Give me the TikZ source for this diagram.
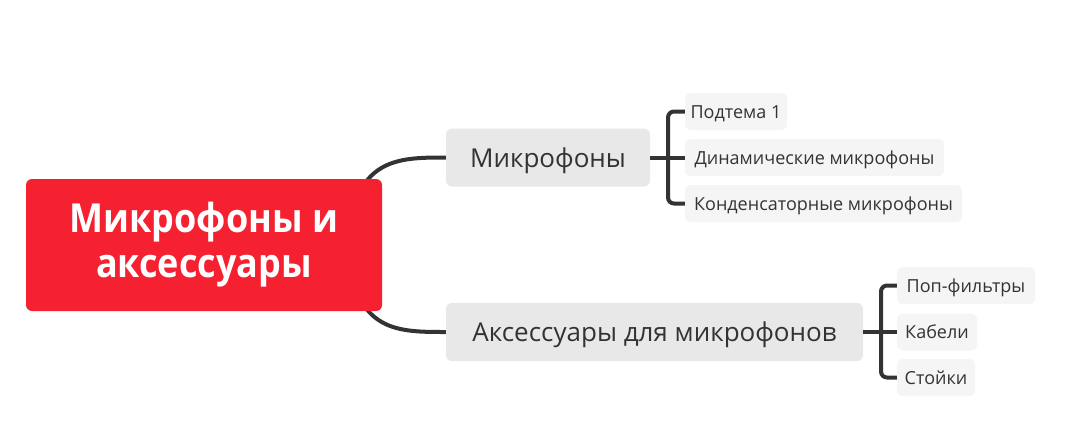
\documentclass[tikz,border=0pt]{standalone}
\usepackage{fontspec}
\setmainfont{Open Sans}
\newfontfamily\rootfont{Open Sans}[FakeStretch=0.9]
\usetikzlibrary{backgrounds,calc}
\definecolor{rootred}{HTML}{F52030}
\definecolor{mainfill}{HTML}{E8E8E8}
\definecolor{subfill}{HTML}{F5F5F5}
\definecolor{linecol}{HTML}{333333}
\definecolor{txt}{HTML}{333333}
\tikzset{
  rootbox/.style={fill=rootred, rounded corners=6pt, text=white, font=\rootfont\fontsize{40}{45}\selectfont\bfseries, align=center, minimum width=356pt, minimum height=132pt, inner sep=0pt},
  mainbox/.style={fill=mainfill, rounded corners=6pt, text=txt, font=\fontsize{26}{30}\selectfont, minimum height=58pt, inner sep=0pt, text height=19pt, text depth=0pt},
  subbox/.style={fill=subfill, rounded corners=6pt, text=txt, font=\fontsize{18}{20}\selectfont, minimum height=37pt, inner sep=0pt, text height=13pt, text depth=0pt},
  conn/.style={draw=linecol, line width=4pt},
  bracket/.style={draw=linecol, line width=4pt, rounded corners=6pt}
}
\begin{document}
\begin{tikzpicture}[x=1pt,y=-1pt]
\useasboundingbox (0,0) rectangle (1083,447);
\node[rootbox] (root) at (204,245) {Микрофоны и\\аксессуары};
\node[mainbox, minimum width=204pt] (m1) at (548,157.5) {Микрофоны};
\node[mainbox, minimum width=417pt] (m2) at (654.5,332) {Аксессуары для микрофонов};
\node[subbox, minimum width=102pt] (s1) at (736,111.5) {Подтема 1};
\node[subbox, minimum width=259pt] (s2) at (814.5,157.5) {Динамические микрофоны};
\node[subbox, minimum width=277pt] (s3) at (823.5,203.5) {Конденсаторные микрофоны};
\node[subbox, minimum width=138pt] (t1) at (966,285.5) {Поп-фильтры};
\node[subbox, minimum width=80pt] (t2) at (937,332) {Кабели};
\node[subbox, minimum width=78pt] (t3) at (936,377.5) {Стойки};
\coordinate (b1) at (668,157.5);
\coordinate (b2) at (881,332);
\begin{scope}[on background layer]
\fill[white] (0,0) rectangle (1083,447);
\draw[conn] ($(root.center)+(150,-40)$) .. controls ($(root.center)+(166,-87)$) and ($(m1.west)+(-41,0)$) .. (m1.west);
\draw[conn] ($(root.center)+(150,40)$) .. controls ($(root.center)+(166,87)$) and ($(m2.west)+(-41,0)$) .. (m2.west);
\end{scope}
\draw[conn] (m1.east) -- (b1) -- (s2.west);
\draw[bracket] (s1.west) -| (b1) |- (s3.west);
\draw[conn] (m2.east) -- (b2) -- (t2.west);
\draw[bracket] (t1.west) -| (b2) |- (t3.west);
\end{tikzpicture}
\end{document}
